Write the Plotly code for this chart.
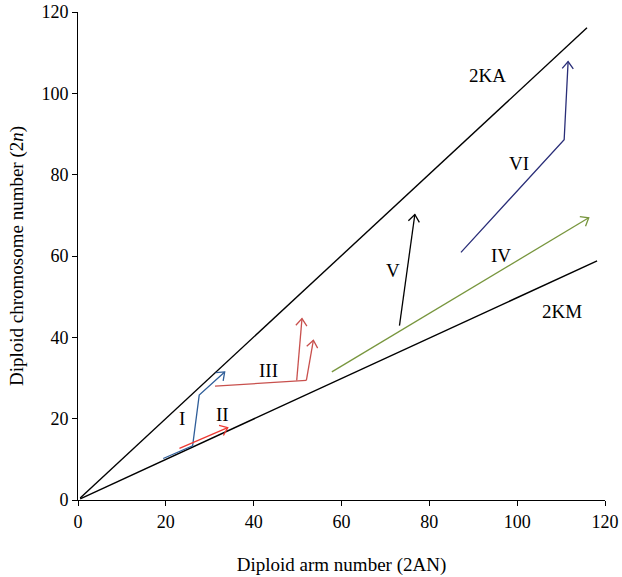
import math
import plotly.graph_objects as go

# ---- data ----
ka_x = [0.5, 115.9]
ka_y = [0.5, 116.1]
km_x = [0.5, 118.2]
km_y = [0.3, 58.8]

# evolutionary paths (2AN, 2n); last point of each path carries an arrowhead
path_I_x = [19.4, 26.1, 27.6, 33.4]
path_I_y = [10.2, 13.3, 25.8, 31.5]
path_II_x = [23.1, 34.1]
path_II_y = [12.7, 17.8]
path_III_x = [31.2, 52.0]
path_III_y = [28.0, 29.4]
path_III_b1_x = [49.8, 51.0]
path_III_b1_y = [29.4, 44.6]
path_III_b2_x = [52.0, 53.6]
path_III_b2_y = [29.4, 39.3]
path_IV_x = [57.8, 116.3]
path_IV_y = [31.5, 69.4]
path_V_x = [73.2, 76.7]
path_V_y = [42.9, 70.2]
path_VI_x = [87.2, 110.7, 111.6]
path_VI_y = [60.9, 88.6, 107.8]

labels = ["2KA", "2KM", "I", "II", "III", "IV", "V", "VI"]
label_x = [93.2, 110.2, 23.6, 32.8, 43.3, 96.4, 71.8, 100.4]
label_y = [104.3, 46.4, 20.1, 21.1, 31.9, 60.1, 56.4, 82.7]

x_ticks = [0, 20, 40, 60, 80, 100, 120]
y_ticks = [0, 20, 40, 60, 80, 100, 120]

# ---- layout geometry ----
W, H = 622, 577
ML, MR, MT, MB = 78, 17, 12, 77
PXX = (W - ML - MR) / 120.0
PXY = (H - MT - MB) / 120.0

FONT = "Liberation Serif"

fig = go.Figure()


def add_line(xs, ys, color, arrow=True, width=1.3):
    fig.add_trace(go.Scatter(x=xs, y=ys, mode="lines",
                             line=dict(color=color, width=width),
                             hoverinfo="skip", showlegend=False))
    if arrow:
        # chevron arrowhead computed in pixel space from the last segment
        x0, y0, x1, y1 = xs[-2], ys[-2], xs[-1], ys[-1]
        dx = (x1 - x0) * PXX
        dy = (y1 - y0) * PXY
        ang = math.atan2(dy, dx)
        L = 9.0
        half = math.radians(38)
        hx, hy = [], []
        for s in (1, -1):
            a = ang + math.pi + s * half
            hx.append(x1 + L * math.cos(a) / PXX)
            hy.append(y1 + L * math.sin(a) / PXY)
        fig.add_trace(go.Scatter(x=[hx[0], x1, hx[1]], y=[hy[0], y1, hy[1]],
                                 mode="lines", line=dict(color=color, width=width),
                                 hoverinfo="skip", showlegend=False))


add_line(ka_x, ka_y, "black", arrow=False, width=1.4)
add_line(km_x, km_y, "black", arrow=False, width=1.4)
add_line(path_I_x, path_I_y, "#2F5E99")
add_line(path_II_x, path_II_y, "#EE3A33")
add_line(path_III_x, path_III_y, "#C8504D", arrow=False)
add_line(path_III_b1_x, path_III_b1_y, "#C8504D")
add_line(path_III_b2_x, path_III_b2_y, "#C8504D")
add_line(path_IV_x, path_IV_y, "#78963E")
add_line(path_V_x, path_V_y, "black")
add_line(path_VI_x, path_VI_y, "#2A2E78")

for t, x, y in zip(labels, label_x, label_y):
    fig.add_annotation(x=x, y=y, text=t, showarrow=False,
                       font=dict(family=FONT, size=19, color="black"))

axis_common = dict(range=[0, 120], showline=True, linecolor="black", linewidth=1,
                   ticks="outside", ticklen=5, tickcolor="black", tickwidth=1,
                   showgrid=False, zeroline=False, automargin=False,
                   tickfont=dict(family=FONT, size=18, color="black"))

fig.update_layout(
    width=W, height=H, autosize=False,
    margin=dict(l=ML, r=MR, t=MT, b=MB, autoexpand=False),
    plot_bgcolor="white", paper_bgcolor="white",
    xaxis=dict(**axis_common, tickvals=x_ticks,
               title=dict(text="Diploid arm number (2AN)",
                          font=dict(family=FONT, size=19, color="black"),
                          standoff=27)),
    yaxis=dict(**axis_common, tickvals=y_ticks,
               title=dict(text="Diploid chromosome number (2<i>n</i>)",
                          font=dict(family=FONT, size=19, color="black"),
                          standoff=12)),
)

fig.write_html("out.html")
